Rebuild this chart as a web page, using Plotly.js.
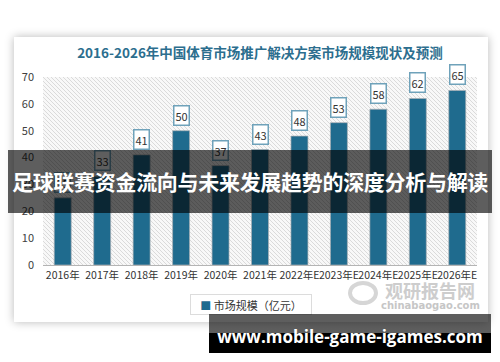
<!DOCTYPE html>
<html>
<head>
<meta charset="utf-8">
<script src="https://cdn.plot.ly/plotly-3.0.1.min.js"></script>
<style>
  html, body { margin: 0; padding: 0; background: #ffffff; width: 500px; height: 362px; overflow: hidden; }
  #card { position: absolute; left: 14px; top: 37px; width: 474px; height: 285px; background: #ffffff;
          box-shadow: 0 0 9px rgba(0,0,0,0.28); }
  #chart { position: absolute; left: 0; top: 0; width: 500px; height: 362px; }
  #banner1 { position: absolute; left: 8px; top: 150px; width: 484px; height: 63px; background: rgba(0,0,0,0.63);
             color: #ffffff; font-family: "Noto Sans CJK SC", sans-serif; font-weight: bold; font-size: 21px;
             line-height: 63px; text-align: center; white-space: nowrap; letter-spacing: -0.3px; }
  #banner2 { position: absolute; left: 209px; top: 314px; width: 282px; height: 39px;
             background: linear-gradient(to bottom, rgba(0,0,0,0.63) 0px, rgba(0,0,0,0.63) 19px, #000000 19px, #000000 39px);
             color: #ffffff; font-family: "Open Sans", sans-serif; font-weight: bold; font-size: 17px;
             text-align: center; white-space: nowrap; }
  #banner2 span { position: absolute; left: 0; right: 0; top: 10px; line-height: 26px; }
</style>
</head>
<body>
<div id="card"></div>
<div id="chart"></div>
<div id="banner1">足球联赛资金流向与未来发展趋势的深度分析与解读</div>
<div id="banner2"><span>www.mobile-game-igames.com</span></div>
<script>
const categories = ["2016年", "2017年", "2018年", "2019年", "2020年", "2021年", "2022年E", "2023年E", "2024年E", "2025年E", "2026年E"];
const marketSize = [25, 33, 41, 50, 37, 43, 48, 53, 58, 62, 65];
const seriesName = "市场规模（亿元）";
const chartTitle = "2016-2026年中国体育市场推广解决方案市场规模现状及预测";
const yTicks = [0, 10, 20, 30, 40, 50, 60, 70];

// plot area in pixels
const L = 43, R = 477, T = 77, B = 265;
const px = x => (x - L) / (R - L);
const py = y => (B - y) / (B - T);

const barColor = "#1f6b8e";

const hatchSvg = '<svg xmlns="http://www.w3.org/2000/svg" width="434" height="188">' +
  '<defs><pattern id="p" patternUnits="userSpaceOnUse" width="4" height="4">' +
  '<rect width="4" height="4" fill="#f8f8f8"/>' +
  '<path d="M-1,-1 L5,5 M-1,3 L1,5 M3,-1 L5,1" stroke="#dadada" stroke-width="1"/></pattern></defs>' +
  '<rect width="434" height="188" fill="url(#p)"/></svg>';
const hatchUri = "data:image/svg+xml;base64," + btoa(hatchSvg);

const labelAnnotations = categories.map((c, i) => ({
  x: c, y: marketSize[i], xref: "x", yref: "y",
  text: String(marketSize[i]), showarrow: false,
  xanchor: "center", yanchor: "bottom", yshift: 5,
  font: { family: "Noto Sans CJK SC, sans-serif", size: 11, color: "#333333" },
  bgcolor: "#ffffff", bordercolor: "#6fa2ba", borderwidth: 1.5, borderpad: 1
}));

const barTrace = {
  type: "bar", x: categories, y: marketSize, name: seriesName,
  marker: { color: barColor, line: { color: "rgba(170,175,180,0.7)", width: 1 } },
  width: 0.43, showlegend: false
};

const legendBox = {
  text: '<span style="color:' + barColor + '">■</span> ' + seriesName,
  xref: "paper", yref: "paper", x: px(251), y: py(304), xanchor: "center", yanchor: "middle",
  showarrow: false, width: 118, height: 17, align: "center",
  font: { family: "Noto Sans CJK SC, sans-serif", size: 11, color: "#333333" },
  bgcolor: "#ffffff", bordercolor: "#dcdcdc", borderwidth: 1, borderpad: 1
};

const layout = {
  width: 500, height: 362,
  margin: { l: L, r: 500 - R, t: T, b: 362 - B },
  paper_bgcolor: "rgba(0,0,0,0)", plot_bgcolor: "rgba(0,0,0,0)",
  font: { family: "Noto Sans CJK SC, sans-serif", color: "#404040", size: 11 },
  title: {
    text: "<b>" + chartTitle + "</b>",
    font: { family: "Noto Sans CJK SC, sans-serif", size: 13.5, color: "#2c6e8e" },
    x: 250 / 500, xanchor: "center", xref: "paper",
    y: 1 - 53 / 362, yanchor: "middle", yref: "container"
  },
  xaxis: {
    type: "category", tickangle: 0, showline: true, linecolor: "#b4b4b4", linewidth: 1,
    ticks: "", showgrid: false, zeroline: false,
    tickfont: { size: 10.5, color: "#333333" }, automargin: false
  },
  yaxis: {
    range: [0, 70], tickvals: yTicks, showgrid: false, zeroline: false, showline: false,
    ticks: "", tickfont: { size: 11, color: "#404040" }, ticklabelstandoff: 8, automargin: false
  },
  bargap: 0.57,
  showlegend: false,
  images: [{
    source: hatchUri, xref: "paper", yref: "paper", x: 0, y: 1, sizex: 1, sizey: 1,
    xanchor: "left", yanchor: "top", sizing: "stretch", layer: "below"
  }],
  annotations: labelAnnotations.concat([
    legendBox,
    { text: "<b>观研报告网</b>", xref: "paper", yref: "paper", x: px(430), y: py(290),
      xanchor: "center", yanchor: "middle", showarrow: false,
      font: { family: "Noto Sans CJK SC, sans-serif", size: 18, color: "#cdcdcd" } },
    { text: "<b>chinabaogao.com</b>", xref: "paper", yref: "paper", x: px(430), y: py(305),
      xanchor: "center", yanchor: "middle", showarrow: false,
      font: { family: "DejaVu Sans, sans-serif", size: 10, color: "#c6c6c6" } }
  ]),
  shapes: [
    { type: "circle", xref: "paper", yref: "paper", x0: px(350), x1: px(376), y0: py(303), y1: py(283),
      line: { color: "#d6d6d6", width: 4 }, fillcolor: "rgba(0,0,0,0)", layer: "above" }
  ]
};

Plotly.newPlot("chart", [barTrace], layout, { displayModeBar: false, staticPlot: true });
</script>
</body>
</html>
